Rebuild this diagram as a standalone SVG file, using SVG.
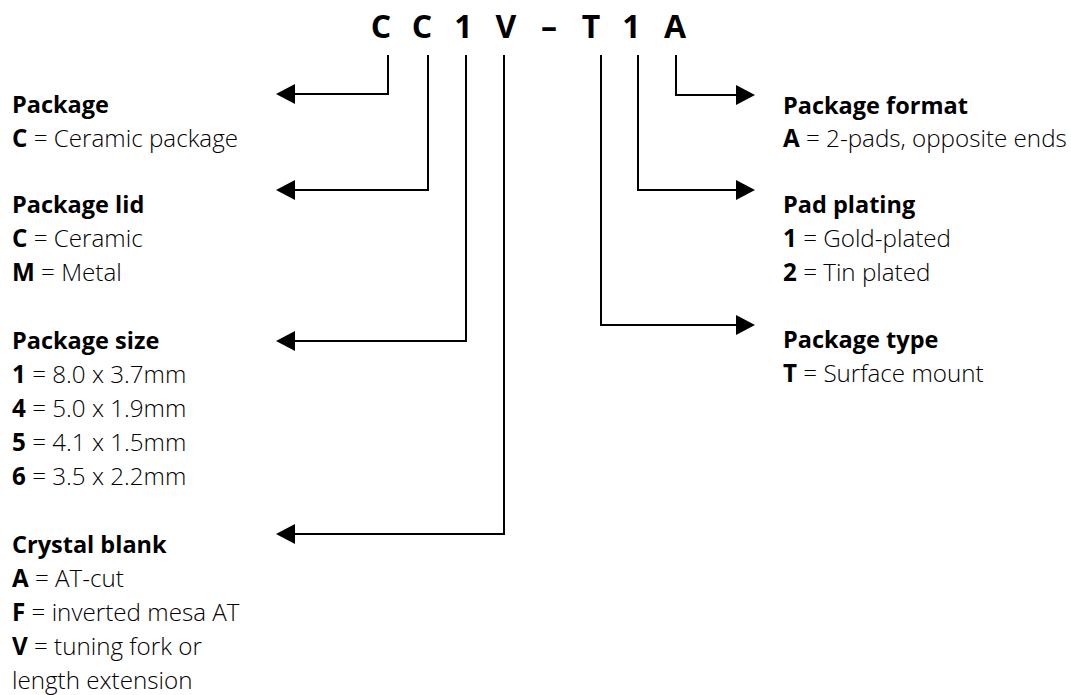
<svg xmlns="http://www.w3.org/2000/svg" width="1071" height="695" viewBox="0 0 1071 695">
<defs>
<style>
.t{font-family:"Open Sans","Liberation Sans",sans-serif;font-size:24.2px;font-weight:300;fill:#000;}
.h{font-weight:700;font-size:23.5px;}
.b{font-weight:700;}
.code{font-family:"Open Sans","Liberation Sans",sans-serif;font-size:32px;font-weight:700;fill:#000;}
.c{fill:none;stroke:#000;stroke-width:2;marker-end:url(#ah);}
</style>
<marker id="ah" viewBox="0 0 19 20" markerWidth="19" markerHeight="20" refX="0" refY="10" markerUnits="userSpaceOnUse" orient="auto">
<path d="M0,0 L19,10 L0,20 z" fill="#000"/>
</marker>
</defs>
<rect width="1071" height="695" fill="#fff"/>
<g id="code">
<text class="code" text-anchor="middle" x="381 422 463.5 506 549 591 631.5 675" y="38">CC1V–T1A</text>
</g>
<g id="connectors">
<path class="c" d="M388,55 V94 H295"/>
<path class="c" d="M428,55 V190 H295"/>
<path class="c" d="M466,55 V341 H295"/>
<path class="c" d="M504,55 V534 H295"/>
<path class="c" d="M676,55 V95 H736"/>
<path class="c" d="M638,55 V190 H736"/>
<path class="c" d="M601,55 V325 H736"/>
</g>
<g id="package">
<text class="t h" x="12" y="113">Package</text>
<text class="t" x="12" y="147"><tspan class="b">C</tspan> = Ceramic package</text>
</g>
<g id="package-lid">
<text class="t h" x="12" y="213">Package lid</text>
<text class="t" x="12" y="247"><tspan class="b">C</tspan> = Ceramic</text>
<text class="t" x="12" y="281"><tspan class="b">M</tspan> = Metal</text>
</g>
<g id="package-size">
<text class="t h" x="12" y="349">Package size</text>
<text class="t" x="12" y="383"><tspan class="b">1</tspan> = 8.0 x 3.7mm</text>
<text class="t" x="12" y="417"><tspan class="b">4</tspan> = 5.0 x 1.9mm</text>
<text class="t" x="12" y="451"><tspan class="b">5</tspan> = 4.1 x 1.5mm</text>
<text class="t" x="12" y="485"><tspan class="b">6</tspan> = 3.5 x 2.2mm</text>
</g>
<g id="crystal-blank">
<text class="t h" x="12" y="553">Crystal blank</text>
<text class="t" x="12" y="587"><tspan class="b">A</tspan> = AT-cut</text>
<text class="t" x="12" y="621"><tspan class="b">F</tspan> = inverted mesa AT</text>
<text class="t" x="12" y="655"><tspan class="b">V</tspan> = tuning fork or</text>
<text class="t" x="12" y="689">length extension</text>
</g>
<g id="package-format">
<text class="t h" x="783" y="114">Package format</text>
<text class="t" x="783" y="147"><tspan class="b">A</tspan> = 2-pads, opposite ends</text>
</g>
<g id="pad-plating">
<text class="t h" x="783" y="213">Pad plating</text>
<text class="t" x="783" y="247"><tspan class="b">1</tspan> = Gold-plated</text>
<text class="t" x="783" y="281"><tspan class="b">2</tspan> = Tin plated</text>
</g>
<g id="package-type">
<text class="t h" x="783" y="348">Package type</text>
<text class="t" x="783" y="382"><tspan class="b">T</tspan> = Surface mount</text>
</g>
</svg>
